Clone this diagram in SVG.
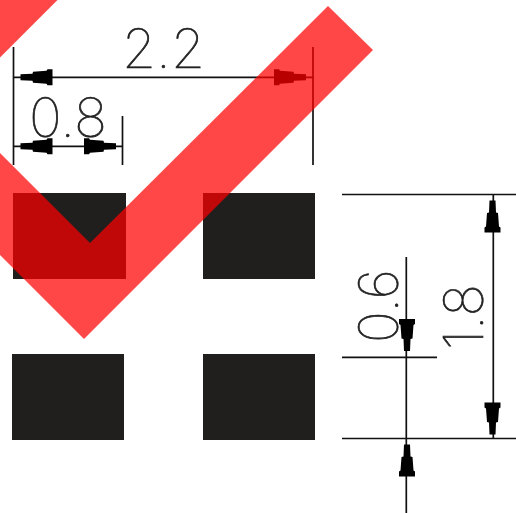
<svg xmlns="http://www.w3.org/2000/svg" width="516" height="513" viewBox="0 0 516 513">
<defs>
<style>
.pad{fill:#211f1d}
.dim{stroke:#111;stroke-width:1.7;fill:none}
.ah{fill:#000}
.lbl{font-family:"Inter","Liberation Sans",sans-serif;font-weight:100;fill:#222;stroke:#222;stroke-width:.7}
.check{fill:#ff0000;fill-opacity:.72}
</style>
<polygon id="arrow" points="0,-3 12,-3.500 12.500,-5.500 26,-6.500 27,-8 32,-8 32,8 27,8 26,6.500 12.500,5.500 12,3.500 0,3"/>
</defs>
<rect width="516" height="513" fill="#fff"/>
<g id="pad-top-left"><rect class="pad" x="13" y="193" width="113" height="86"/></g>
<g id="pad-top-right"><rect class="pad" x="203" y="193" width="112" height="86"/></g>
<g id="pad-bottom-left"><rect class="pad" x="12" y="354" width="112" height="86"/></g>
<g id="pad-bottom-right"><rect class="pad" x="203" y="354" width="112" height="86"/></g>
<g id="connectors">
<path class="dim" d="M13.500 47V165M14 77.300H313M313 47V165M122.500 116V165M14 146.300H122.500M342 194.500H516M493.300 194V438M342 438.500H516M342 357.300H437M406.300 257V513"/>
<use class="ah" href="#arrow" transform="translate(20.500 77.300)"/>
<use class="ah" href="#arrow" transform="translate(306 77.300) rotate(180)"/>
<use class="ah" href="#arrow" transform="translate(20.500 146.300)"/>
<use class="ah" href="#arrow" transform="translate(116 146.300) rotate(180)"/>
<use class="ah" href="#arrow" transform="translate(492.500 200.500) rotate(90)"/>
<use class="ah" href="#arrow" transform="translate(492.500 434.500) rotate(-90)"/>
<use class="ah" href="#arrow" transform="translate(407 351) rotate(-90)"/>
<use class="ah" href="#arrow" transform="translate(407 444.500) rotate(90)"/>
</g>
<g id="labels">
<text class="lbl" x="122" y="68" font-size="54" textLength="83" lengthAdjust="spacingAndGlyphs">2.2</text>
<text class="lbl" x="29" y="137" font-size="54" textLength="78" lengthAdjust="spacingAndGlyphs">0.8</text>
<text class="lbl" transform="translate(398 343) rotate(-90)" font-size="54" textLength="74" lengthAdjust="spacingAndGlyphs">0.6</text>
<text class="lbl" transform="translate(483 350) rotate(-90)" font-size="54" textLength="66" lengthAdjust="spacingAndGlyphs">1.8</text>
</g>
<g id="checkmark">
<polygon class="check" points="84,339 373,50 328,6 90,243 0,153 0,255"/>
<polygon class="check" points="0,0 57.500,0 0,57.500"/>
</g>
</svg>
